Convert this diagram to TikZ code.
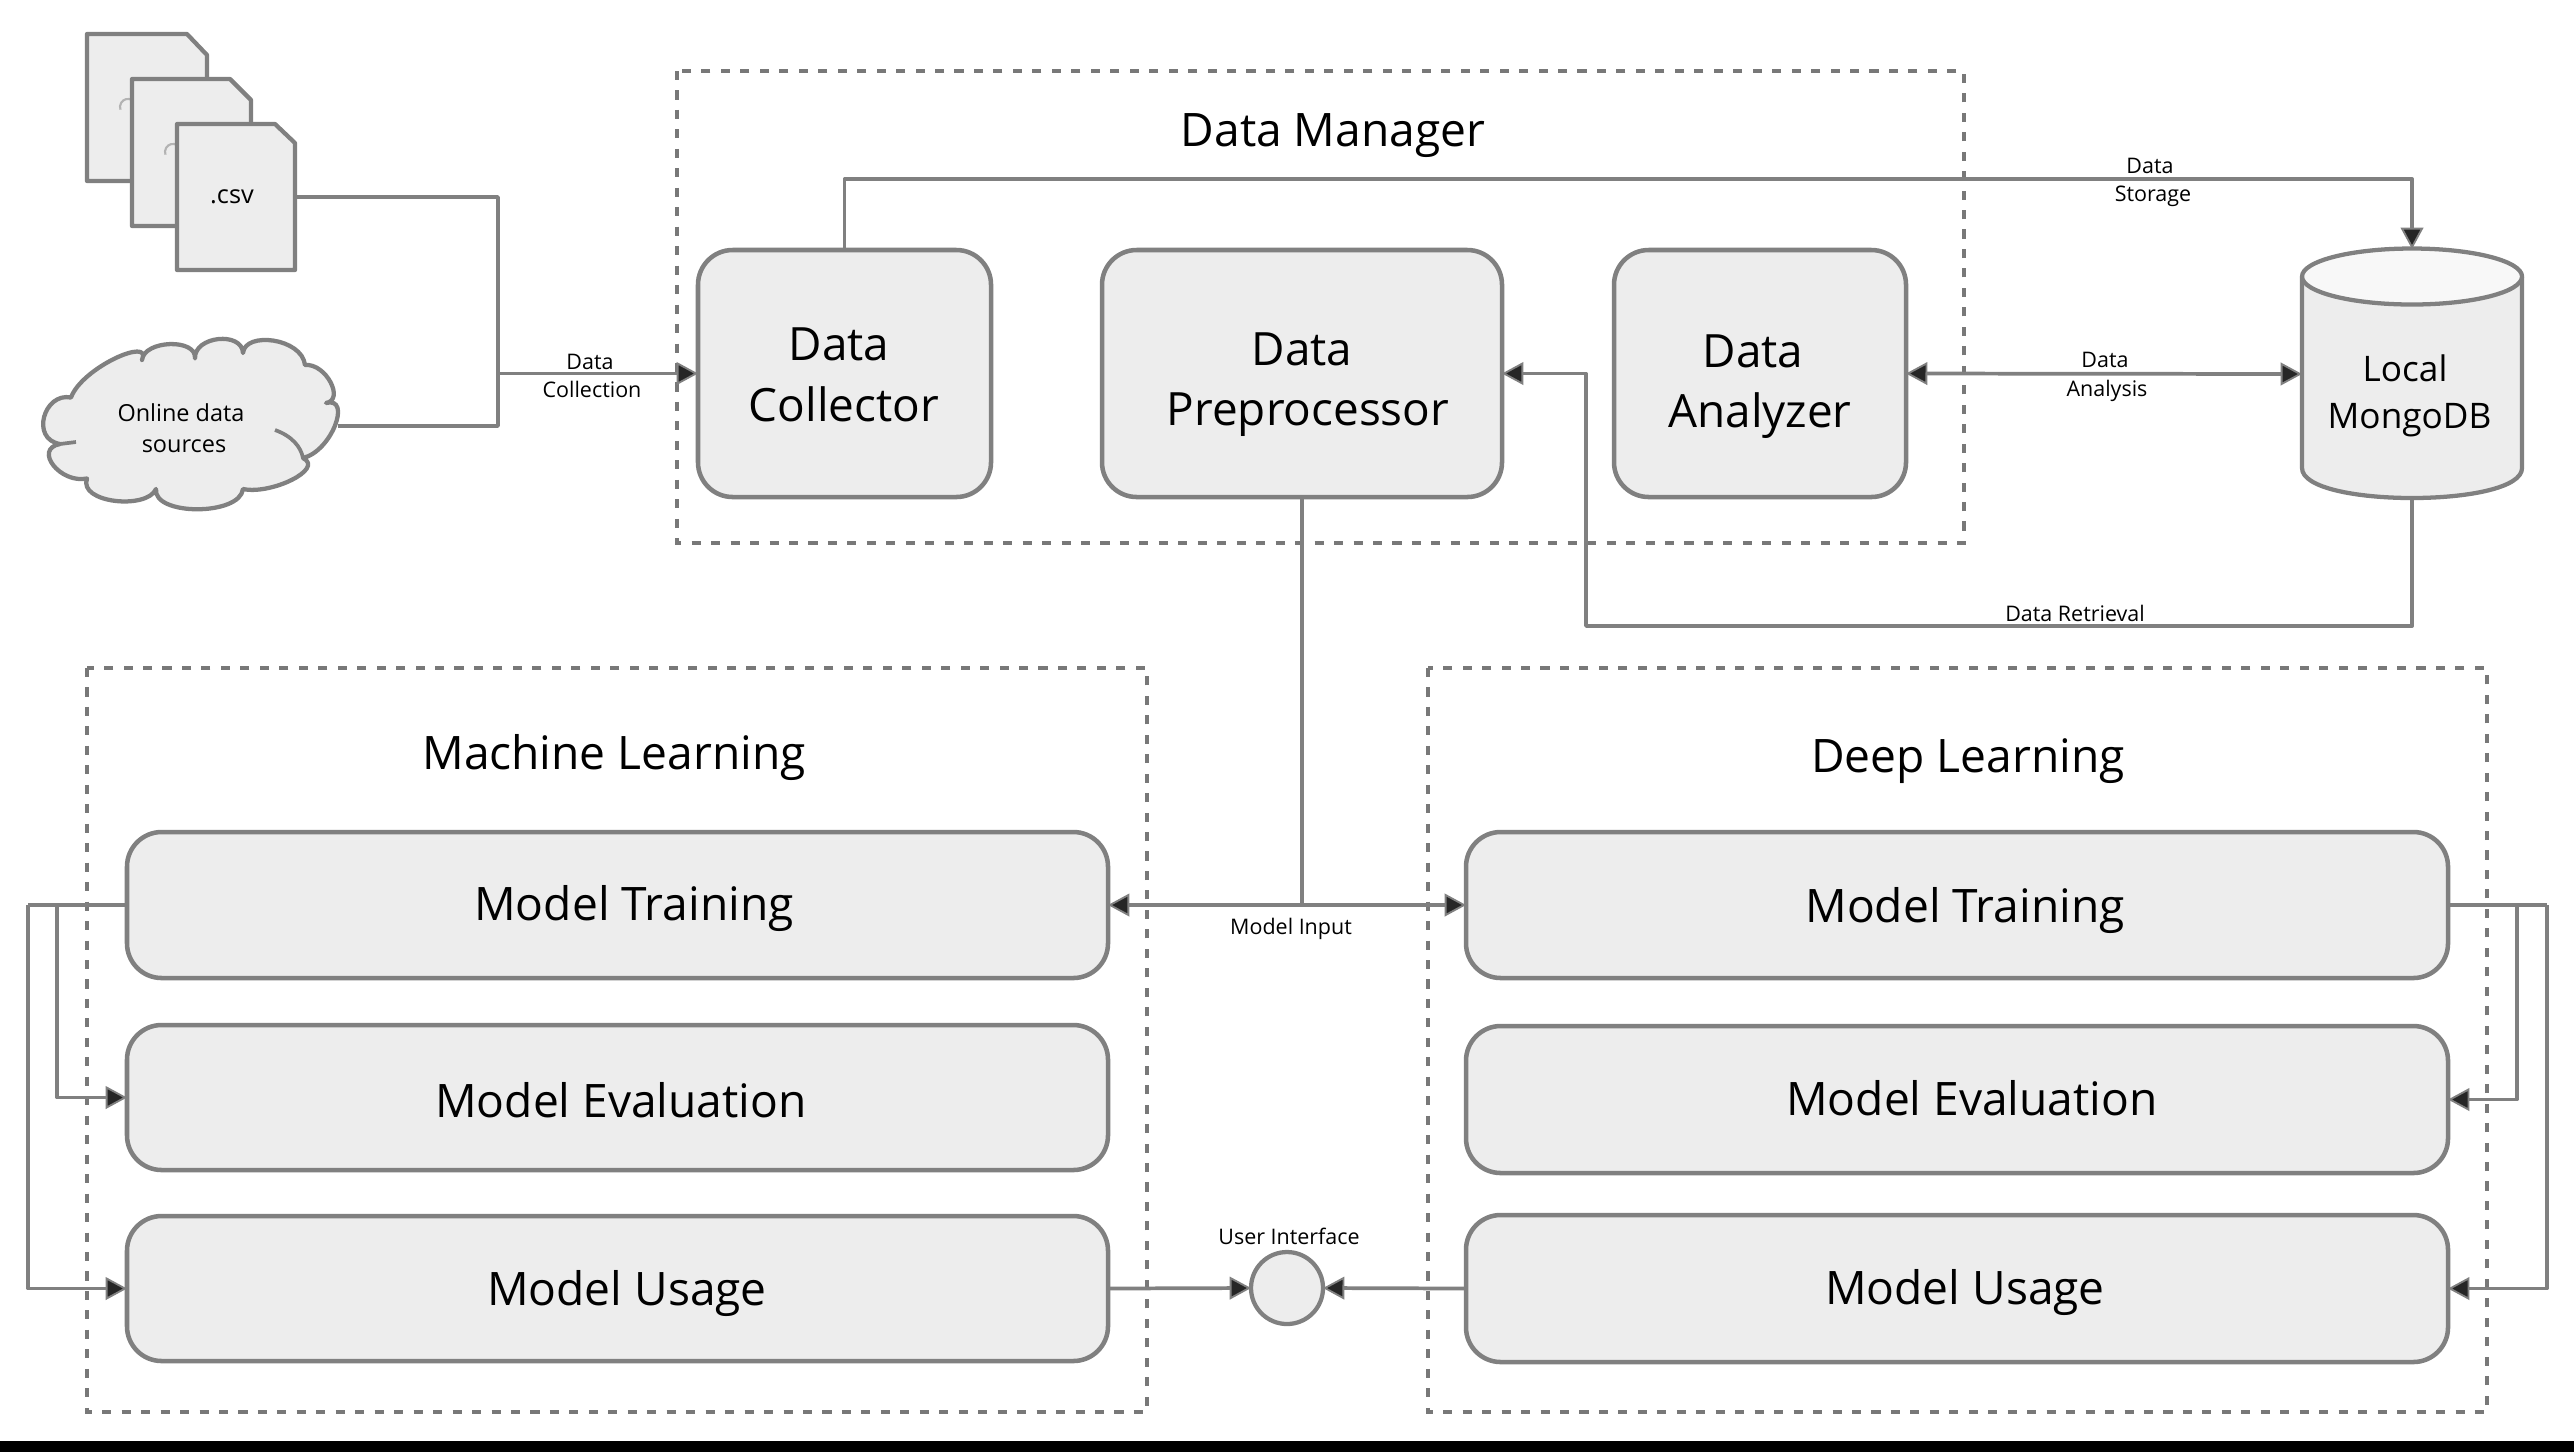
\documentclass[tikz,border=0pt]{standalone}
\usepackage{fontspec}
\setmainfont{Open Sans}
\usetikzlibrary{arrows.meta,calc,positioning}
\definecolor{ln}{HTML}{808080}
\definecolor{fl}{HTML}{EDEDED}
\definecolor{dsh}{HTML}{787878}
\tikzset{
  x=0.375pt,y=-0.375pt,
  shapeline/.style={draw=ln,line width=1.6pt,fill=fl,line join=round},
  rbox/.style 2 args={draw=ln,line width=1.7pt,fill=fl,rounded corners=13pt,inner sep=0pt,outer sep=0pt,minimum width=#1*0.375pt,minimum height=#2*0.375pt},
  anchorbox/.style 2 args={inner sep=0pt,outer sep=0pt,minimum width=#1*0.375pt,minimum height=#2*0.375pt},
  dashbox/.style={draw=dsh,line width=1.75pt,dash pattern=on 3.4pt off 3.9pt},
  conn/.style={draw=ln,line width=1.4pt,line join=round},
  tip/.style={-{Triangle[length=8pt,width=8.5pt,fill=black!85,color=ln,line width=.7pt]}},
  bitip/.style={{Triangle[length=8pt,width=8.5pt,fill=black!85,color=ln,line width=.7pt]}-{Triangle[length=8pt,width=8.5pt,fill=black!85,color=ln,line width=.7pt]}},
  txt/.style={inner sep=0pt,text height=.714em,text depth=0pt},
  big/.style={txt,font=\fontsize{17.2}{20}\selectfont,yshift=-3.1pt},
  title/.style={txt,font=\fontsize{17.3}{20}\selectfont,yshift=-3.1pt},
  mid/.style={txt,font=\fontsize{13.2}{16}\selectfont,yshift=-1.9pt},
  small/.style={txt,font=\fontsize{8.05}{9}\selectfont},
  cloudtxt/.style={txt,font=\fontsize{8.8}{10}\selectfont},
}
\begin{document}
\begin{tikzpicture}
\useasboundingbox (0,0) rectangle (2574,1452);
\fill[white] (0,0) rectangle (2574,1452);
\fill[black] (0,1441) rectangle (2574,1452);

\node[anchorbox={118}{146}] (csv) at (236,197) {};
\node[anchorbox={295}{174}] (cloud) at (190,426) {};
\node[anchorbox={220}{250}] (db) at (2412,374) {};
\node[rbox={293}{247}] (collector) at (844.5,373.5) {};
\node[rbox={400}{247}] (prep) at (1302,373.5) {};
\node[rbox={292}{247}] (analyzer) at (1760,373.5) {};
\node[rbox={981}{146}] (mlT) at (617.5,905) {};
\node[rbox={981}{145}] (mlE) at (617.5,1097.5) {};
\node[rbox={981}{145}] (mlU) at (617.5,1288.5) {};
\node[rbox={982}{146}] (dlT) at (1957,905) {};
\node[rbox={982}{147}] (dlE) at (1957,1099.5) {};
\node[rbox={982}{147}] (dlU) at (1957,1288.5) {};
\node[draw=ln,line width=1.6pt,fill=fl,circle,inner sep=0pt,outer sep=0pt,minimum size=72*0.375pt] (ui) at (1287,1288) {};

% dashed groups
\draw[dashbox] (677,71) rectangle (1964,543);
\draw[dashbox] (87,668) rectangle (1147,1412);
\draw[dashbox] (1428,668) rectangle (2487,1412);

% file stack
\draw[shapeline] (87,34) -- (187,34) -- (207,55) -- (207,181) -- (87,181) -- cycle;
\draw[draw=ln!60,line width=.8pt] (132,100) arc (60:200:3pt);
\draw[shapeline] (132,79) -- (230,79) -- (251,100) -- (251,226) -- (132,226) -- cycle;
\draw[draw=ln!60,line width=.8pt] (177,145) arc (60:200:3pt);
\draw[shapeline] (177,124) -- (275,124) -- (295,143) -- (295,270) -- (177,270) -- cycle;

% cloud
\draw[shapeline] (71,397.5)
  .. controls (82,367.5) and (153,336) .. (142,360)
  .. controls (144,340) and (197,338) .. (195,358.5)
  .. controls (194,336) and (242,331) .. (243,353)
  .. controls (245,331) and (302,338) .. (305,365)
  .. controls (326,363) and (345,400) .. (326,403)
  .. controls (352,396) and (332,451) .. (303,458)
  .. controls (325,469) and (271,495) .. (243,489)
  .. controls (240,516) and (153,516) .. (156,489)
  .. controls (147,510) and (78,503) .. (87,478.5)
  .. controls (60,484) and (33,449) .. (60,444)
  .. controls (30,439) and (44,392) .. cycle;
\draw[draw=ln,line width=1.4pt] (60,444) -- (76,442);
\draw[draw=ln,line width=1.4pt] (275,430) .. controls (292,436) and (301,447) .. (303,458);

% cylinder
\draw[shapeline] (2302,277) -- (2302,468) .. controls (2302,508) and (2522,508) .. (2522,468) -- (2522,277);
\draw[shapeline,fill=fl!40] (2412,276.5) ellipse [x radius=110,y radius=28];

% connectors
\coordinate (junc) at (498,373.5);
\draw[conn] (csv.east) -| (junc);
\draw[conn] (cloud.east) -| (junc);
\draw[conn,tip] (junc) -- (collector.west);
\coordinate (storeY) at (0,179);
\draw[conn,tip] (collector.north) -- (collector.north |- storeY) -| (db.north);
\draw[conn,bitip] (analyzer.east) -- (db.west);
\coordinate (retr) at (1586,626);
\draw[conn,tip] (db.south) |- (retr) |- (prep.east);
\coordinate (inp) at (prep.south |- mlT.east);
\draw[conn] (prep.south) -- (inp);
\draw[conn,bitip] (mlT.east) -- (dlT.west);
\draw[conn,tip] (mlU.east) -- (ui.west);
\draw[conn,tip] (dlU.west) -- (ui.east);
\coordinate (lo) at (28,905);
\coordinate (li) at (57,905);
\coordinate (ri) at (2517,905);
\coordinate (ro) at (2547,905);
\draw[conn] (mlT.west) -- (lo);
\draw[conn,tip] (li) |- (mlE.west);
\draw[conn,tip] (lo) |- (mlU.west);
\draw[conn] (dlT.east) -- (ro);
\draw[conn,tip] (ri) |- (dlE.east);
\draw[conn,tip] (ro) |- (dlU.east);

% texts
\node[cloudtxt,font=\fontsize{9.5}{10}\selectfont] (t1) at (232,194) {.csv};
\node[cloudtxt] (t2) at (181,412) {Online data};
\node[cloudtxt] (t3) at (184,443) {sources};
\node[small] (t4) at (590,360) {Data};
\node[small] (t5) at (592,388) {Collection};
\node[small] (t6) at (2150,164) {Data};
\node[small] (t7) at (2153,192) {Storage};
\node[small] (t8) at (2105,358) {Data};
\node[small] (t9) at (2107,387) {Analysis};
\node[small] (t10) at (2075,612) {Data Retrieval};
\node[small] (t11) at (1291,925) {Model Input};
\node[small] (t12) at (1289,1235) {User Interface};
\node[mid] (t13) at (2405,367) {Local};
\node[mid] (t14) at (2409.5,414) {MongoDB};
\node[title] (t15) at (1333,129) {Data Manager};
\node[title] (t16) at (614,752) {Machine Learning};
\node[title] (t17) at (1968,755) {Deep Learning};
\node[big] (t18) at (839,343) {Data};
\node[big] (t19) at (844,404) {Collector};
\node[big] (t20) at (1302,348) {Data};
\node[big] (t21) at (1308,408) {Preprocessor};
\node[big] (t22) at (1753,350) {Data};
\node[big] (t23) at (1760,410) {Analyzer};
\node[title] (t24) at (634,903) {Model Training};
\node[title] (t25) at (621,1100) {Model Evaluation};
\node[title] (t26) at (627,1288) {Model Usage};
\node[title] (t27) at (1965,905) {Model Training};
\node[title] (t28) at (1972,1098) {Model Evaluation};
\node[title] (t29) at (1965,1287) {Model Usage};
\end{tikzpicture}
\end{document}
